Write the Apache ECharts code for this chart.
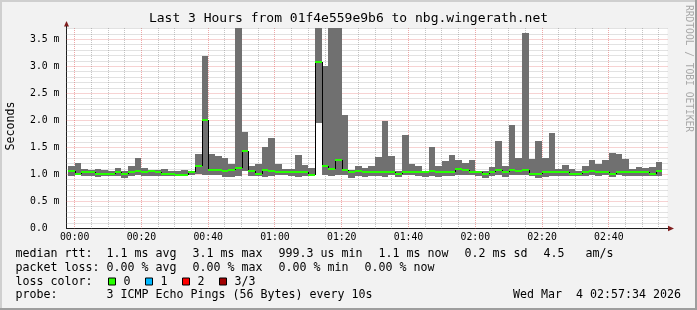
<!DOCTYPE html>
<html><head><meta charset="utf-8">
<script src="https://cdn.jsdelivr.net/npm/echarts@6/dist/echarts.min.js"></script>
<style>html,body{margin:0;padding:0;background:#f2f2f2}#c{width:697px;height:310px}</style>
</head><body><div id="c"></div>
<script>
// ---- data (minutes relative to 00:00, values in ms) ----
const slotMinutes = 2;
const firstSlot = -2; // first 2-minute slot starts 23:58
const smokeMax = [1.16,1.22,1.10,1.09,1.10,1.09,1.07,1.12,1.07,1.16,1.31,1.12,1.09,1.09,1.10,1.07,1.07,1.09,
  1.07,1.38,3.20,1.38,1.35,1.31,1.20,4.00,1.79,1.15,1.19,1.51,1.68,1.20,1.10,1.10,1.36,1.18,1.12,4.00,3.01,4.00,4.00,
  2.11,1.09,1.16,1.12,1.16,1.33,2.00,1.35,1.07,1.74,1.20,1.16,1.07,1.51,1.16,1.25,1.36,1.27,1.22,1.27,1.04,1.07,1.14,
  1.62,1.16,1.92,1.31,3.62,1.29,1.62,1.31,1.77,1.10,1.18,1.10,1.06,1.16,1.27,1.20,1.27,1.40,1.38,1.29,1.10,1.14,1.12,1.14,1.23];
const smokeMin = [0.98,1.00,0.98,0.98,0.96,0.98,0.98,0.98,0.94,0.98,1.00,0.98,0.98,0.98,0.98,0.98,0.98,0.98,
  1.00,1.01,1.00,1.00,1.00,0.96,0.96,0.98,1.07,0.98,0.98,0.96,0.98,1.00,1.00,0.98,0.96,0.98,1.00,1.96,1.00,0.98,1.00,
  1.00,0.94,0.98,0.96,0.98,0.98,0.96,1.00,0.96,1.00,1.00,0.98,0.96,0.98,0.96,0.98,0.98,1.00,1.00,1.00,0.98,0.94,0.98,
  1.00,0.96,1.00,1.00,1.00,0.98,0.94,0.96,0.98,0.98,0.98,0.98,0.98,0.98,1.00,0.98,1.00,0.96,1.00,0.98,0.98,0.98,0.98,0.98,0.98];
const medianRtt = [1.06,1.01,1.04,1.04,1.01,1.01,1.01,1.04,1.01,1.04,1.07,1.04,1.06,1.04,1.01,1.01,1.00,1.00,
  1.05,1.16,2.01,1.09,1.09,1.06,1.09,1.12,1.43,1.07,1.01,1.09,1.07,1.04,1.04,1.05,1.05,1.04,0.99,3.09,1.16,1.11,1.26,
  1.09,1.04,1.07,1.04,1.04,1.05,1.04,1.04,1.01,1.04,1.04,1.05,1.04,1.07,1.05,1.04,1.04,1.11,1.09,1.04,1.04,1.01,1.04,
  1.09,1.05,1.09,1.07,1.09,1.01,1.01,1.04,1.05,1.04,1.04,1.01,1.01,1.05,1.07,1.04,1.05,1.01,1.05,1.04,1.04,1.05,1.04,1.01,1.07];
const gapBand = [[72, 0.99, 1.96]]; // slot start, from, to (uncovered white band)
const xMajor = [0,20,40,60,80,100,120,140,160];
const xLabels = ['00:00','00:20','00:40','01:00','01:20','01:40','02:00','02:20','02:40'];
const xMinor = [5,10,15,25,30,35,45,50,55,65,70,75,85,90,95,105,110,115,125,130,135,145,150,155,165,170,175];
const yMajor = [0,0.5,1.0,1.5,2.0,2.5,3.0,3.5];
const yLabels = ['0.0  ','0.5 m','1.0 m','1.5 m','2.0 m','2.5 m','3.0 m','3.5 m'];
const yMinor = [0.1,0.2,0.3,0.4,0.6,0.7,0.8,0.9,1.1,1.2,1.3,1.4,1.6,1.7,1.8,1.9,2.1,2.2,2.3,2.4,2.6,2.7,2.8,2.9,3.1,3.2,3.3,3.4,3.6,3.7];
const lossColors = [['0','#26ff00'],['1','#00b8ff'],['2','#ff0000'],['3/3','#a10000']];

// ---- build ----
const slotStart = smokeMax.map((_, i) => firstSlot + i * slotMinutes);
const smokeData = slotStart.map((t, i) => [t, smokeMin[i], smokeMax[i]]);
const medData = slotStart.map((t, i) => [t, medianRtt[i], i > 0 ? medianRtt[i-1] : medianRtt[i]]);
const MONO = "'DejaVu Sans Mono', monospace";
const minorCol = 'rgba(140,140,140,0.5)';
const majorCol = 'rgba(226,80,80,0.5)';

function csRect(params){ const c = params.coordSys; return {x:c.x, y:c.y, width:c.width, height:c.height}; }

function renderVGrid(params, api){
  const c = params.coordSys;
  const x = Math.floor(api.coord([api.value(0), 0])[0]) + 0.5;
  return {type:'line', silent:true, shape:{x1:x, y1:c.y, x2:x, y2:c.y + c.height},
    style:{stroke: api.value(1) ? majorCol : minorCol, lineWidth:1, lineDash:[1,1]}};
}
function renderHGrid(params, api){
  const c = params.coordSys;
  const y = Math.floor(api.coord([0, api.value(1)])[1]) + 0.5;
  return {type:'line', silent:true, shape:{x1:c.x, y1:y, x2:c.x + c.width, y2:y},
    style:{stroke: api.value(2) ? majorCol : minorCol, lineWidth:1, lineDash:[1,1]}};
}
function renderBand(fill){
  return function(params, api){
    const t = api.value(0), lo = api.value(1), hi = api.value(2);
    const a = api.coord([t, hi]), b = api.coord([t + slotMinutes, lo]);
    const x0 = Math.round(a[0]), x1 = Math.round(b[0]), y0 = Math.round(a[1]), y1 = Math.round(b[1]);
    const shape = echarts.graphic.clipRectByRect({x:x0, y:y0, width:x1-x0, height:y1-y0}, csRect(params));
    return shape && {type:'rect', shape, style:{fill, stroke:null}};
  };
}
function renderMedian(params, api){
  const t = api.value(0), m = api.value(1), pm = api.value(2);
  const a = api.coord([t, m]), b = api.coord([t + slotMinutes, m]), p = api.coord([t, pm]);
  const x0 = Math.round(a[0]), x1 = Math.round(b[0]);
  const y = Math.round(a[1]), py = Math.round(p[1]);
  return {type:'group', children:[
    {type:'line', shape:{x1:x0 + 0.5, y1:py, x2:x0 + 0.5, y2:y}, style:{stroke:'#000', lineWidth:1}},
    {type:'line', shape:{x1:x0, y1:y, x2:x1, y2:y}, style:{stroke:'#26ff00', lineWidth:2}}
  ]};
}

const graphics = [
  {type:'rect', shape:{x:0,y:0,width:697,height:2}, style:{fill:'#cfcfcf'}},
  {type:'rect', shape:{x:0,y:0,width:2,height:310}, style:{fill:'#cfcfcf'}},
  {type:'rect', shape:{x:0,y:308,width:697,height:2}, style:{fill:'#9e9e9e'}},
  {type:'rect', shape:{x:695,y:0,width:2,height:310}, style:{fill:'#9e9e9e'}},
  {type:'text', x:348.5, y:18.5, style:{text:'Last 3 Hours from 01f4e559e9b6 to nbg.wingerath.net', font:'13px ' + MONO, fill:'#000', align:'center', verticalAlign:'middle'}},
  {type:'text', x:688, y:5, rotation:-Math.PI/2, style:{text:'RRDTOOL / TOBI OETIKER', font:'9.6px ' + MONO, fill:'#a8a8a8', align:'left', verticalAlign:'middle'}},
  {type:'text', x:11, y:126, rotation:Math.PI/2, style:{text:'Seconds', font:'11.63px ' + MONO, fill:'#000', align:'center', verticalAlign:'middle'}},
  {type:'polygon', shape:{points:[[64,26.5],[69,26.5],[66.5,21]]}, style:{fill:'#801f1f'}},
  {type:'polygon', shape:{points:[[668,225.8],[668,231.2],[674,228.5]]}, style:{fill:'#801f1f'}},
  {type:'line', shape:{x1:66.5,y1:26,x2:66.5,y2:28}, style:{stroke:'#1f1f1f', lineWidth:1}},
  {type:'line', shape:{x1:667,y1:228.5,x2:668,y2:228.5}, style:{stroke:'#1f1f1f', lineWidth:1}}
];
function legendText(x, y, text){
  graphics.push({type:'text', x, y, style:{text, font:'11.63px ' + MONO, fill:'#000', align:'left', verticalAlign:'middle'}});
}
const L1 = 254, L2 = 267.5, L3 = 281.5, L4 = 295;
legendText(15.5, L1, 'median rtt:  1.1 ms avg');
legendText(192.5, L1, '3.1 ms max');
legendText(278.5, L1, '999.3 us min');
legendText(378.5, L1, '1.1 ms now');
legendText(464.5, L1, '0.2 ms sd');
legendText(543.5, L1, '4.5   am/s');
legendText(15.5, L2, 'packet loss: 0.00 % avg');
legendText(192.5, L2, '0.00 % max');
legendText(278.5, L2, '0.00 % min');
legendText(364.5, L2, '0.00 % now');
legendText(15.5, L3, 'loss color:');
const boxX = [108.5, 145.5, 182.5, 219.5];
lossColors.forEach(([lab, col], i) => {
  graphics.push({type:'rect', shape:{x:boxX[i], y:L3 - 3.5, width:7, height:7}, style:{fill:col, stroke:'#000', lineWidth:1}});
  legendText(boxX[i] + 15, L3, lab);
});
legendText(15.5, L4, 'probe:       3 ICMP Echo Pings (56 Bytes) every 10s');
graphics.push({type:'text', x:681, y:L4, style:{text:'Wed Mar  4 02:57:34 2026', font:'11.63px ' + MONO, fill:'#000', align:'right', verticalAlign:'middle'}});

const option = {
  animation:false,
  backgroundColor:'#f2f2f2',
  grid:{left:66.5, top:28, width:601, height:200.5, backgroundColor:'#ffffff', show:true, borderWidth:0},
  xAxis:{type:'value', min:-2.4333, max:177.5667,
    axisLine:{show:true, onZero:false, lineStyle:{color:'#1f1f1f', width:1}},
    axisTick:{show:false}, splitLine:{show:false},
    axisLabel:{customValues:xMajor, formatter:(v) => xLabels[xMajor.indexOf(v)] || '', fontFamily:MONO, fontSize:9.8, color:'#000', margin:4}},
  yAxis:{type:'value', min:0, max:3.713,
    axisLine:{show:true, onZero:false, lineStyle:{color:'#1f1f1f', width:1}},
    axisTick:{show:false}, splitLine:{show:false},
    axisLabel:{customValues:yMajor, formatter:(v) => yLabels[yMajor.indexOf(v)] || '', fontFamily:MONO, fontSize:9.8, color:'#000', margin:7}},
  graphic:graphics,
  series:[
    {type:'custom', silent:true, z:1, renderItem:renderVGrid, data:xMinor.map(v => [v,0]).concat(xMajor.slice(1).map(v => [v,1]).concat([[0,1]]))},
    {type:'custom', silent:true, z:1, renderItem:renderHGrid, data:yMinor.map(v => [0,v,0]).concat(yMajor.slice(1).map(v => [0,v,1]))},
    {type:'custom', silent:true, z:2, renderItem:renderBand('#707070'), data:smokeData},
    {type:'custom', silent:true, z:3, renderItem:renderBand('#ffffff'), data:gapBand},
    {type:'custom', silent:true, z:4, renderItem:renderMedian, data:medData}
  ]
};
const chart = echarts.init(document.getElementById('c'), null, {renderer:'canvas', width:697, height:310});
chart.setOption(option);
</script></body></html>
